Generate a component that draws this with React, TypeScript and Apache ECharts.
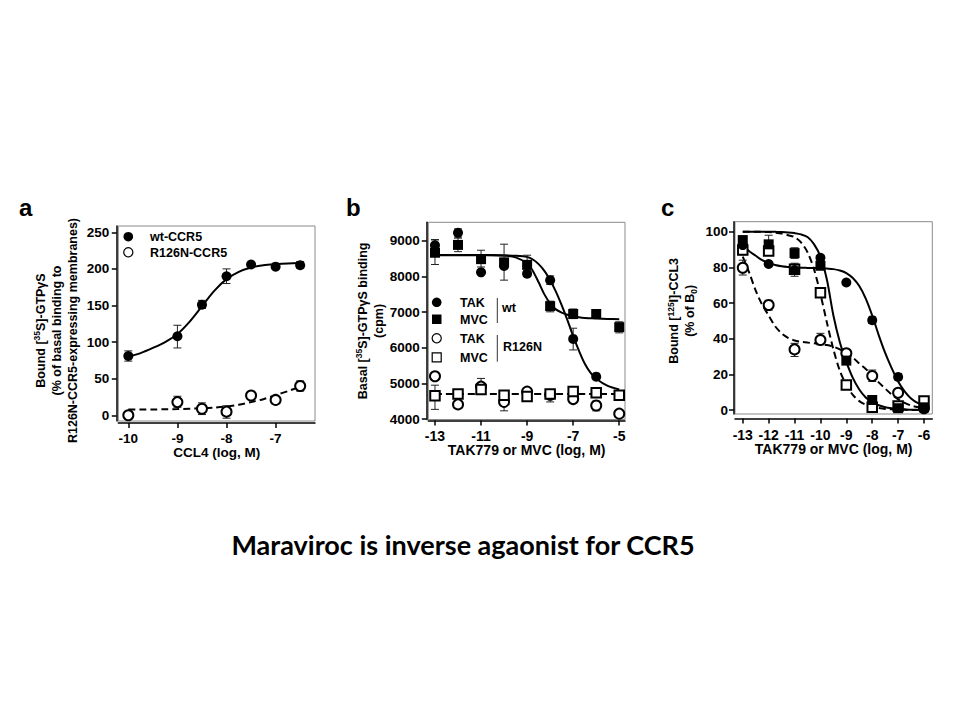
import React, { useEffect, useRef } from 'react';
import * as echarts from 'echarts';

const FONT = '"Liberation Sans", Arial, Helvetica, sans-serif';

// ---------- Panel a: CCL4 stimulation ----------
const aDoses = [-10, -9, -8.5, -8, -7.5, -7, -6.5];
const aWt = [81, 108, 151, 190, 206, 203, 205];
const aR126N = [0, 18, 9, 5, 27, 21, 40];
const aWtErr = [[-10, 74, 88], [-9, 92, 123], [-8.5, 146, 157], [-8, 180, 200], [-6.5, 201, 210]];
const aR126NErr = [[-9, 11, 26], [-8.5, 1, 17], [-8, -4, 13], [-6.5, 33, 47]];
const aFitDoses = [-10, -9.75, -9.5, -9.25, -9, -8.75, -8.5, -8.25, -8, -7.75, -7.5, -7.25, -7, -6.75, -6.5];
const aWtFit = [80, 85, 92, 100, 111, 128, 149, 170, 186, 196, 202, 205, 206.5, 207.5, 208];
const aR126NFit = [8, 8, 8, 8.2, 8.5, 9, 9.5, 10.5, 12, 14.5, 18, 22, 27.5, 33, 39];
const aXTicks = [-10, -9, -8, -7];
const aYTicks = [0, 50, 100, 150, 200, 250];

// ---------- Panel b: basal GTPgS binding ----------
const bDoses = [-13, -12, -11, -10, -9, -8, -7, -6, -5];
const bTakWt = [8880, 9230, 8120, 8300, 8080, 7900, 6250, 5190, null];
const bMvcWt = [8670, 8890, 8490, 8400, 8330, 7170, 6950, 6950, 6580];
const bTakR126N = [5200, 4410, 4910, 4480, 4770, 4680, 4560, 4380, 4150];
const bMvcR126N = [4650, 4700, 4830, 4670, 4630, 4700, 4770, 4740, 4670];
const bTakWtErr = [[-13, 8720, 9040], [-12, 9110, 9340], [-10, 7900, 8910], [-8, 7780, 8020], [-7, 5940, 6550]];
const bMvcWtErr = [[-13, 8340, 9030], [-12, 8700, 9080], [-11, 8270, 8740], [-9, 8180, 8600], [-8, 7010, 7310], [-7, 6820, 7090], [-5, 6420, 6730]];
const bR126NErr = [[-13, 4270, 4950], [-11, 4700, 5140], [-10, 4230, 4690], [-8, 4480, 4700], [-6, 4230, 4500]];
const bFitDoses = [-13, -12, -11, -10, -9.5, -9, -8.75, -8.5, -8.25, -8, -7.75, -7.5, -7.25, -7, -6.75, -6.5, -6.25, -6, -5.5, -5];
const bTakWtFit = [8600, 8600, 8600, 8595, 8585, 8550, 8480, 8350, 8160, 7900, 7580, 7200, 6780, 6330, 5920, 5560, 5300, 5130, 4930, 4830];
const bMvcWtFit = [8610, 8610, 8605, 8590, 8540, 8370, 8160, 7840, 7500, 7250, 7080, 6990, 6930, 6890, 6860, 6840, 6830, 6820, 6810, 6800];
const bR126NFitDoses = [-13, -5];
const bR126NFit = [4700, 4700];
const bXTicks = [-13, -11, -9, -7, -5];
const bYTicks = [4000, 5000, 6000, 7000, 8000, 9000];

// ---------- Panel c: [125I]-CCL3 displacement ----------
const cDoses = [-13, -12, -11, -10, -9, -8, -7, -6];
const cTakWt = [92.5, 81.9, 78.5, 85.4, 71.5, 50.4, 18.5, 1];
const cMvcWt = [95.3, 92.9, 88, 80.9, 27.7, 5.6, 1, 1.5];
const cTakR126N = [79.8, 58.9, 34, 39.3, 31.8, 19.1, 9.7, 1];
const cMvcR126N = [89.7, 89.2, 79, 65.8, 14, 1.5, 2.2, 5];
const cWtErr = [[-11, 75, 82.3], [-8, 48.5, 52], [-7, 17, 20.5], [-12, 87, 98], [-11, 85, 91], [-10, 79, 83], [-9, 25.5, 30]];
const cR126NErr = [[-13, 75.7, 84], [-12, 56, 61.5], [-11, 30, 37.4], [-10, 36.5, 43], [-8, 16, 22.4], [-9, 30, 33.5], [-13, 87, 92], [-6, 3.5, 6.5]];
const cFitDoses = [-13, -12.75, -12.5, -12.25, -12, -11.75, -11.5, -11.25, -11, -10.75, -10.5, -10.25, -10, -9.75, -9.5, -9.25, -9, -8.75, -8.5, -8.25, -8, -7.75, -7.5, -7.25, -7, -6.75, -6.5, -6.25, -6];
const cTakWtFit = [92.5, 89, 86.5, 84, 82.5, 81.3, 80.6, 80.2, 80, 79.8, 79.7, 79.6, 79.5, 79.3, 79, 78.2, 76.8, 74, 69.5, 62.5, 53, 42, 32, 23.5, 16, 10.5, 6.5, 4, 2.5];
const cMvcWtFit = [100, 100, 100, 100, 100, 99.9, 99.8, 99.6, 99.2, 98.5, 97, 93, 86, 73, 53, 38, 27, 18, 11.5, 7, 4.3, 2.7, 1.6, 1, 0.6, 0.4, 0.2, 0.1, 0];
const cMvcR126NFit = [100, 100, 100, 99.9, 99.8, 99.5, 99, 98, 97, 94, 88.5, 79, 65, 49, 34, 22, 14, 8.5, 5, 3, 1.8, 1.1, 0.6, 0.4, 0.2, 0.1, 0.05, 0, 0];
const cTakR126NFit = [86, 77, 67, 59, 53, 47, 43, 40.5, 39, 38.3, 37.8, 37.4, 37, 36.4, 35.5, 34, 32, 29.5, 26, 23, 19.5, 15.5, 12, 8.7, 6, 4, 2.5, 1.7, 1];
const cXTicks = [-13, -12, -11, -10, -9, -8, -7, -6];
const cYTicks = [0, 20, 40, 60, 80, 100];

const TITLE = 'Maraviroc is inverse agaonist for CCR5';

const zip = (xs: number[], ys: (number | null)[]) =>
  xs.map((x, i) => [x, ys[i]]).filter((p) => p[1] !== null && p[1] !== undefined);

function makeAxis(gridIndex: number, min: number, max: number, ticks: number[], offset: number, margin: number, fontSize: number, extra: any = {}) {
  return {
    type: 'value',
    gridIndex,
    min,
    max,
    offset,
    axisLine: { show: true, onZero: false, lineStyle: { color: '#000', width: 1.5 } },
    axisTick: { show: true, length: 5, customValues: ticks, lineStyle: { color: '#000', width: 1.5 } },
    axisLabel: {
      customValues: ticks,
      formatter: (v: number) => String(v),
      color: '#000',
      fontWeight: 'bold',
      fontSize,
      fontFamily: FONT,
      margin,
    },
    splitLine: { show: false },
    ...extra,
  };
}

function fitLine(idx: number, xs: number[], ys: number[], dashed: boolean) {
  return {
    type: 'line',
    xAxisIndex: idx,
    yAxisIndex: idx,
    data: zip(xs, ys),
    smooth: 0.3,
    symbol: 'none',
    silent: true,
    z: 2,
    lineStyle: { color: '#000', width: 2, type: dashed ? [7, 4] : 'solid' },
  };
}

function points(idx: number, xs: number[], ys: (number | null)[], symbol: string, size: number, name: string) {
  const empty = symbol.startsWith('empty');
  return {
    type: 'scatter',
    name,
    xAxisIndex: idx,
    yAxisIndex: idx,
    data: zip(xs, ys),
    symbol,
    symbolSize: size,
    z: empty ? 4 : 5,
    itemStyle: { color: '#000', borderWidth: empty ? 1.2 : 0, opacity: 1 },
  };
}

function errorBars(idx: number, data: number[][]) {
  return {
    type: 'custom',
    xAxisIndex: idx,
    yAxisIndex: idx,
    data,
    encode: { x: 0, y: [1, 2] },
    silent: true,
    z: 3,
    renderItem: (_params: any, api: any) => {
      const x = api.value(0);
      const lo = api.coord([x, api.value(1)]);
      const hi = api.coord([x, api.value(2)]);
      const w = 4;
      const style = { stroke: '#222', lineWidth: 1 };
      return {
        type: 'group',
        children: [
          { type: 'line', shape: { x1: lo[0], y1: lo[1], x2: hi[0], y2: hi[1] }, style },
          { type: 'line', shape: { x1: lo[0] - w, y1: lo[1], x2: lo[0] + w, y2: lo[1] }, style },
          { type: 'line', shape: { x1: hi[0] - w, y1: hi[1], x2: hi[0] + w, y2: hi[1] }, style },
        ],
      };
    },
  };
}

const richName = {
  n: { fontSize: 12.5, fontWeight: 'bold', fontFamily: FONT, color: '#000', lineHeight: 16 },
  s: { fontSize: 8.5, fontWeight: 'bold', fontFamily: FONT, color: '#000', verticalAlign: 'top' },
  d: { fontSize: 8.5, fontWeight: 'bold', fontFamily: FONT, color: '#000', verticalAlign: 'bottom' },
};

function legendText(text: string, x: number, y: number) {
  return {
    type: 'text',
    x,
    y,
    style: { text, fill: '#000', font: `bold 12.5px ${FONT}`, verticalAlign: 'middle', align: 'left' },
  };
}

const App: React.FC = () => {
  const ref = useRef<HTMLDivElement>(null);

  useEffect(() => {
    document.body.style.margin = '0';
    if (!ref.current) return;
    const chart = echarts.init(ref.current, undefined, { renderer: 'svg' });
    const gridBase = { show: true, borderColor: '#8a8a8a', borderWidth: 1, backgroundColor: 'transparent', containLabel: false };

    const option: any = {
      animation: false,
      backgroundColor: '#fff',
      title: {
        text: TITLE,
        left: 458,
        textAlign: 'center',
        top: 526,
        textStyle: { fontFamily: 'Lato, "Open Sans", sans-serif', fontWeight: 'bold', fontSize: 27, color: '#000' },
      },
      grid: [
        { ...gridBase, left: 118.3, top: 226, width: 196.7, height: 195 },
        { ...gridBase, left: 428.3, top: 222.3, width: 196.7, height: 197.2 },
        { ...gridBase, left: 735, top: 221.7, width: 197.3, height: 192.3 },
      ],
      xAxis: [
        makeAxis(0, -10.204, -6.198, aXTicks, 2, 8, 13.5, {
          name: 'CCL4 (log, M)', nameLocation: 'middle', nameGap: 21,
          nameTextStyle: { fontWeight: 'bold', fontSize: 13.5, fontFamily: FONT, color: '#000' },
        }),
        makeAxis(1, -13.29, -4.75, bXTicks, 1, 8, 14, {
          name: 'TAK779 or MVC (log, M)', nameLocation: 'middle', nameGap: 21,
          nameTextStyle: { fontWeight: 'bold', fontSize: 14, fontFamily: FONT, color: '#000' },
        }),
        makeAxis(2, -13.3, -5.68, cXTicks, 4.5, 9, 14, {
          name: 'TAK779 or MVC (log, M)', nameLocation: 'middle', nameGap: 22,
          nameTextStyle: { fontWeight: 'bold', fontSize: 14, fontFamily: FONT, color: '#000' },
        }),
      ],
      yAxis: [
        makeAxis(0, -7.8, 258.6, aYTicks, 1.5, 7.5, 13.5, {
          name: '{n|Bound [}{s|35}{n|S]-GTPγS}\n{n|(% of basal binding to}\n{n|R126N-CCR5-expressing membranes)}',
          nameLocation: 'middle', nameRotate: 90, nameGap: 36,
          nameTextStyle: { rich: richName, padding: [0, 14, 0, 0] },
        }),
        makeAxis(1, 3986, 9525, bYTicks, 1.5, 7, 13.5, {
          name: '{n|Basal [}{s|35}{n|S]-GTPγS binding}\n{n|(cpm)}',
          nameLocation: 'middle', nameRotate: 90, nameGap: 40,
          nameTextStyle: { rich: richName },
        }),
        makeAxis(2, -2.24, 105.6, cYTicks, 1, 6, 13.5, {
          name: '{n|Bound [}{s|125}{n|I]-CCL3}\n{n|(% of B}{d|0}{n|)}',
          nameLocation: 'middle', nameRotate: 90, nameGap: 36,
          nameTextStyle: { rich: richName, padding: [0, 0, 0, 14] },
        }),
      ],
      series: [
        // Panel a
        fitLine(0, aFitDoses, aWtFit, false),
        fitLine(0, aFitDoses, aR126NFit, true),
        errorBars(0, aWtErr),
        errorBars(0, aR126NErr),
        points(0, aDoses, aR126N, 'emptyCircle', 10, 'R126N-CCR5'),
        points(0, aDoses, aWt, 'circle', 10, 'wt-CCR5'),
        // Panel b
        fitLine(1, bFitDoses, bTakWtFit, false),
        fitLine(1, bFitDoses, bMvcWtFit, false),
        fitLine(1, bR126NFitDoses, bR126NFit, true),
        errorBars(1, bTakWtErr),
        errorBars(1, bMvcWtErr),
        errorBars(1, bR126NErr),
        points(1, bDoses, bTakR126N, 'emptyCircle', 10, 'TAK R126N'),
        points(1, bDoses, bMvcR126N, 'emptyRect', 9.5, 'MVC R126N'),
        points(1, bDoses, bTakWt, 'circle', 10, 'TAK wt'),
        points(1, bDoses, bMvcWt, 'rect', 10, 'MVC wt'),
        // Panel c
        fitLine(2, cFitDoses, cTakWtFit, false),
        fitLine(2, cFitDoses, cMvcWtFit, false),
        fitLine(2, cFitDoses, cMvcR126NFit, true),
        fitLine(2, cFitDoses, cTakR126NFit, true),
        errorBars(2, cWtErr),
        errorBars(2, cR126NErr),
        points(2, cDoses, cTakR126N, 'emptyCircle', 10, 'TAK R126N'),
        points(2, cDoses, cMvcR126N, 'emptyRect', 9.5, 'MVC R126N'),
        points(2, cDoses, cTakWt, 'circle', 10, 'TAK wt'),
        points(2, cDoses, cMvcWt, 'rect', 10, 'MVC wt'),
      ],
      graphic: [
        // panel letters
        { type: 'text', x: 19, y: 207, style: { text: 'a', fill: '#000', font: `bold 24px ${FONT}`, verticalAlign: 'middle' } },
        { type: 'text', x: 346, y: 207, style: { text: 'b', fill: '#000', font: `bold 24px ${FONT}`, verticalAlign: 'middle' } },
        { type: 'text', x: 661, y: 207, style: { text: 'c', fill: '#000', font: `bold 24px ${FONT}`, verticalAlign: 'middle' } },
        // panel a legend
        { type: 'circle', shape: { cx: 128.3, cy: 236.7, r: 4.8 }, style: { fill: '#000' } },
        legendText('wt-CCR5', 150, 237),
        { type: 'circle', shape: { cx: 128.3, cy: 252.3, r: 4.6 }, style: { fill: '#fff', stroke: '#000', lineWidth: 1.2 } },
        legendText('R126N-CCR5', 150, 252.5),
        // panel b legend
        { type: 'circle', shape: { cx: 436.7, cy: 302.3, r: 4.8 }, style: { fill: '#000' } },
        legendText('TAK', 460, 302.5),
        { type: 'rect', shape: { x: 432, y: 314.5, width: 9.5, height: 9.5 }, style: { fill: '#000' } },
        legendText('MVC', 460, 319.5),
        { type: 'line', shape: { x1: 497.3, y1: 298, x2: 497.3, y2: 323 }, style: { stroke: '#333', lineWidth: 1 } },
        legendText('wt', 502, 307.5),
        { type: 'circle', shape: { cx: 436.7, cy: 338.3, r: 4.6 }, style: { fill: '#fff', stroke: '#000', lineWidth: 1.2 } },
        legendText('TAK', 460, 338.5),
        { type: 'rect', shape: { x: 432.2, y: 352.8, width: 9, height: 9 }, style: { fill: '#fff', stroke: '#000', lineWidth: 1.2 } },
        legendText('MVC', 460, 357.5),
        { type: 'line', shape: { x1: 497.3, y1: 335, x2: 497.3, y2: 361.7 }, style: { stroke: '#333', lineWidth: 1 } },
        legendText('R126N', 503, 346.7),
      ],
    };
    chart.setOption(option);
    return () => chart.dispose();
  }, []);

  return <div ref={ref} style={{ position: 'absolute', left: 0, top: 0, width: 960, height: 720 }} />;
};

export default App;
